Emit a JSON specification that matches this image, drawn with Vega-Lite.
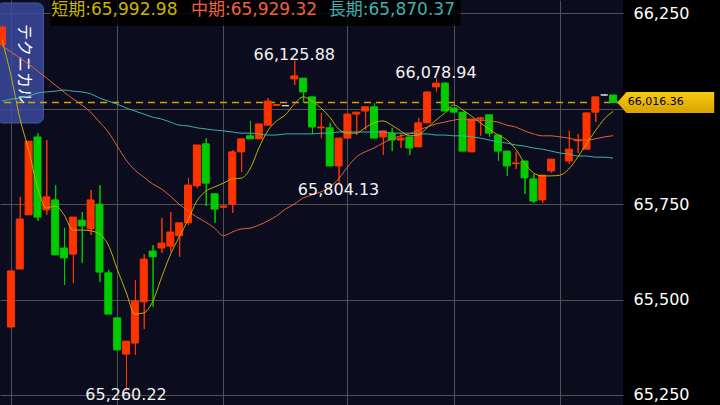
{
  "$schema": "https://vega.github.io/schema/vega-lite/v6.json",
  "width": 623,
  "height": 405,
  "autosize": "none",
  "padding": {"left": 0, "top": 0, "right": 97, "bottom": 0},
  "background": "#000000",
  "config": {
    "view": {"fill": "#0b0c1d", "stroke": null},
    "text": {"font": "DejaVu Sans"}
  },
  "resolve": {"axis": {"x": "independent", "y": "independent"}},
  "datasets": {
    "candles": [
      {"i": 0, "open": 66167, "high": 66219, "low": 66167, "close": 66214},
      {"i": 1, "open": 65428, "high": 65575, "low": 65428, "close": 65575},
      {"i": 2, "open": 65580, "high": 65769, "low": 65580, "close": 65711},
      {"i": 3, "open": 65722, "high": 65915, "low": 65722, "close": 65915},
      {"i": 4, "open": 65926, "high": 65936, "low": 65706, "close": 65716},
      {"i": 5, "open": 65735, "high": 65918, "low": 65722, "close": 65769},
      {"i": 6, "open": 65761, "high": 65800, "low": 65617, "close": 65617},
      {"i": 7, "open": 65635, "high": 65688, "low": 65538, "close": 65609},
      {"i": 8, "open": 65619, "high": 65716, "low": 65543, "close": 65716},
      {"i": 9, "open": 65708, "high": 65729, "low": 65596, "close": 65693},
      {"i": 10, "open": 65685, "high": 65787, "low": 65669, "close": 65761},
      {"i": 11, "open": 65750, "high": 65800, "low": 65546, "close": 65572},
      {"i": 12, "open": 65570, "high": 65578, "low": 65462, "close": 65462},
      {"i": 13, "open": 65452, "high": 65452, "low": 65368, "close": 65368},
      {"i": 14, "open": 65357, "high": 65391, "low": 65260.22, "close": 65391},
      {"i": 15, "open": 65386, "high": 65551, "low": 65355, "close": 65496},
      {"i": 16, "open": 65494, "high": 65619, "low": 65423, "close": 65606},
      {"i": 17, "open": 65627, "high": 65643, "low": 65481, "close": 65612},
      {"i": 18, "open": 65635, "high": 65714, "low": 65622, "close": 65648},
      {"i": 19, "open": 65640, "high": 65729, "low": 65625, "close": 65677},
      {"i": 20, "open": 65667, "high": 65701, "low": 65612, "close": 65701},
      {"i": 21, "open": 65701, "high": 65819, "low": 65695, "close": 65800},
      {"i": 22, "open": 65798, "high": 65905, "low": 65792, "close": 65905},
      {"i": 23, "open": 65908, "high": 65923, "low": 65745, "close": 65805},
      {"i": 24, "open": 65777, "high": 65779, "low": 65701, "close": 65737},
      {"i": 25, "open": 65742, "high": 65746, "low": 65742, "close": 65745},
      {"i": 26, "open": 65750, "high": 65892, "low": 65727, "close": 65887},
      {"i": 27, "open": 65887, "high": 65921, "low": 65834, "close": 65921},
      {"i": 28, "open": 65929, "high": 65968, "low": 65921, "close": 65921},
      {"i": 29, "open": 65921, "high": 65960, "low": 65921, "close": 65960},
      {"i": 30, "open": 65957, "high": 66028, "low": 65957, "close": 66020},
      {"i": 31, "open": 66009, "high": 66012, "low": 66008, "close": 66011},
      {"i": 32, "open": 66008, "high": 66009, "low": 66007, "close": 66008},
      {"i": 33, "open": 66078, "high": 66125.88, "low": 66062, "close": 66086},
      {"i": 34, "open": 66080, "high": 66080, "low": 66015, "close": 66044},
      {"i": 35, "open": 66031, "high": 66031, "low": 65934, "close": 65952},
      {"i": 36, "open": 65950, "high": 65989, "low": 65923, "close": 65952},
      {"i": 37, "open": 65950, "high": 65963, "low": 65850, "close": 65850},
      {"i": 38, "open": 65850, "high": 65923, "low": 65804.13, "close": 65923},
      {"i": 39, "open": 65923, "high": 65986, "low": 65923, "close": 65986},
      {"i": 40, "open": 65986, "high": 65991, "low": 65931, "close": 65991},
      {"i": 41, "open": 65994, "high": 66005, "low": 65944, "close": 66005},
      {"i": 42, "open": 66005, "high": 66015, "low": 65923, "close": 65923},
      {"i": 43, "open": 65926, "high": 65942, "low": 65879, "close": 65942},
      {"i": 44, "open": 65936, "high": 65950, "low": 65889, "close": 65918},
      {"i": 45, "open": 65918, "high": 65936, "low": 65897, "close": 65923},
      {"i": 46, "open": 65926, "high": 65926, "low": 65879, "close": 65897},
      {"i": 47, "open": 65900, "high": 65976, "low": 65900, "close": 65963},
      {"i": 48, "open": 65963, "high": 66044, "low": 65963, "close": 66044},
      {"i": 49, "open": 66057, "high": 66078.94, "low": 66044, "close": 66067},
      {"i": 50, "open": 66067, "high": 66070, "low": 65994, "close": 65994},
      {"i": 51, "open": 66002, "high": 66002, "low": 65991, "close": 65991},
      {"i": 52, "open": 65991, "high": 65991, "low": 65889, "close": 65889},
      {"i": 53, "open": 65887, "high": 65973, "low": 65887, "close": 65973},
      {"i": 54, "open": 65973, "high": 65978, "low": 65929, "close": 65976},
      {"i": 55, "open": 65984, "high": 65984, "low": 65926, "close": 65936},
      {"i": 56, "open": 65931, "high": 65931, "low": 65863, "close": 65889},
      {"i": 57, "open": 65889, "high": 65889, "low": 65824, "close": 65850},
      {"i": 58, "open": 65856, "high": 65887, "low": 65842, "close": 65858},
      {"i": 59, "open": 65863, "high": 65863, "low": 65777, "close": 65819},
      {"i": 60, "open": 65816, "high": 65829, "low": 65753, "close": 65758},
      {"i": 61, "open": 65761, "high": 65826, "low": 65753, "close": 65826},
      {"i": 62, "open": 65837, "high": 65868, "low": 65832, "close": 65868},
      {"i": 64, "open": 65863, "high": 65942, "low": 65855, "close": 65894},
      {"i": 65, "open": 65916, "high": 65934, "low": 65884, "close": 65918},
      {"i": 66, "open": 65894, "high": 65989, "low": 65894, "close": 65989},
      {"i": 67, "open": 65991, "high": 66031, "low": 65965, "close": 66031},
      {"i": 68, "open": 66036, "high": 66037, "low": 66035, "close": 66036},
      {"i": 69, "open": 66036, "high": 66036, "low": 66016.36, "close": 66016.36}
    ],
    "ma": [
      {"i": 0, "s": 66180, "m": 66164, "l": 66020},
      {"i": 1, "s": 66088, "m": 66149, "l": 66025},
      {"i": 2, "s": 65976, "m": 66133, "l": 66028},
      {"i": 3, "s": 65892, "m": 66117, "l": 66033},
      {"i": 4, "s": 65795, "m": 66099, "l": 66041},
      {"i": 5, "s": 65740, "m": 66081, "l": 66044},
      {"i": 6, "s": 65745, "m": 66062, "l": 66046},
      {"i": 7, "s": 65722, "m": 66044, "l": 66049},
      {"i": 8, "s": 65682, "m": 66026, "l": 66046},
      {"i": 9, "s": 65682, "m": 66010, "l": 66044},
      {"i": 10, "s": 65680, "m": 65991, "l": 66039},
      {"i": 11, "s": 65672, "m": 65965, "l": 66028},
      {"i": 12, "s": 65643, "m": 65939, "l": 66020},
      {"i": 13, "s": 65580, "m": 65902, "l": 66012},
      {"i": 14, "s": 65520, "m": 65866, "l": 66002},
      {"i": 15, "s": 65462, "m": 65839, "l": 65994},
      {"i": 16, "s": 65465, "m": 65821, "l": 65986},
      {"i": 17, "s": 65494, "m": 65803, "l": 65978},
      {"i": 18, "s": 65557, "m": 65790, "l": 65973},
      {"i": 19, "s": 65617, "m": 65771, "l": 65965},
      {"i": 20, "s": 65664, "m": 65750, "l": 65957},
      {"i": 21, "s": 65708, "m": 65732, "l": 65955},
      {"i": 22, "s": 65758, "m": 65716, "l": 65950},
      {"i": 23, "s": 65784, "m": 65703, "l": 65947},
      {"i": 24, "s": 65795, "m": 65687, "l": 65944},
      {"i": 25, "s": 65805, "m": 65667, "l": 65942},
      {"i": 26, "s": 65816, "m": 65677, "l": 65939},
      {"i": 27, "s": 65818, "m": 65685, "l": 65936},
      {"i": 28, "s": 65842, "m": 65687, "l": 65936},
      {"i": 29, "s": 65897, "m": 65695, "l": 65934},
      {"i": 30, "s": 65942, "m": 65706, "l": 65931},
      {"i": 31, "s": 65968, "m": 65719, "l": 65931},
      {"i": 32, "s": 65984, "m": 65737, "l": 65934},
      {"i": 33, "s": 66012, "m": 65750, "l": 65934},
      {"i": 34, "s": 66031, "m": 65766, "l": 65934},
      {"i": 35, "s": 66020, "m": 65774, "l": 65934},
      {"i": 36, "s": 66002, "m": 65782, "l": 65936},
      {"i": 37, "s": 65978, "m": 65795, "l": 65936},
      {"i": 38, "s": 65947, "m": 65816, "l": 65939},
      {"i": 39, "s": 65936, "m": 65847, "l": 65939},
      {"i": 40, "s": 65936, "m": 65873, "l": 65939},
      {"i": 41, "s": 65950, "m": 65887, "l": 65939},
      {"i": 42, "s": 65963, "m": 65897, "l": 65939},
      {"i": 43, "s": 65968, "m": 65910, "l": 65939},
      {"i": 44, "s": 65957, "m": 65921, "l": 65936},
      {"i": 45, "s": 65942, "m": 65929, "l": 65936},
      {"i": 46, "s": 65929, "m": 65934, "l": 65936},
      {"i": 47, "s": 65931, "m": 65944, "l": 65934},
      {"i": 48, "s": 65950, "m": 65952, "l": 65934},
      {"i": 49, "s": 65970, "m": 65960, "l": 65931},
      {"i": 50, "s": 65989, "m": 65965, "l": 65931},
      {"i": 51, "s": 66010, "m": 65970, "l": 65929},
      {"i": 52, "s": 65997, "m": 65973, "l": 65929},
      {"i": 53, "s": 65981, "m": 65970, "l": 65926},
      {"i": 54, "s": 65963, "m": 65970, "l": 65923},
      {"i": 55, "s": 65947, "m": 65968, "l": 65918},
      {"i": 56, "s": 65931, "m": 65965, "l": 65913},
      {"i": 57, "s": 65918, "m": 65957, "l": 65910},
      {"i": 58, "s": 65894, "m": 65952, "l": 65905},
      {"i": 59, "s": 65858, "m": 65942, "l": 65902},
      {"i": 60, "s": 65832, "m": 65934, "l": 65897},
      {"i": 61, "s": 65824, "m": 65929, "l": 65894},
      {"i": 62, "s": 65824, "m": 65929, "l": 65889},
      {"i": 63, "s": 65826, "m": 65926, "l": 65884},
      {"i": 64, "s": 65842, "m": 65923, "l": 65881},
      {"i": 65, "s": 65873, "m": 65918, "l": 65876},
      {"i": 66, "s": 65908, "m": 65918, "l": 65876},
      {"i": 67, "s": 65942, "m": 65921, "l": 65873},
      {"i": 68, "s": 65973, "m": 65926, "l": 65873},
      {"i": 69, "s": 65992.98, "m": 65929.32, "l": 65870.37}
    ],
    "notes": [
      {"i": 33, "price": 66125.88, "label": "66,125.88", "pos": "above"},
      {"i": 49, "price": 66078.94, "label": "66,078.94", "pos": "above"},
      {"i": 38, "price": 65804.13, "label": "65,804.13", "pos": "below"},
      {"i": 14, "price": 65260.22, "label": "65,260.22", "pos": "bottom"}
    ],
    "legend": [
      {"key": "short", "label": "短期:65,992.98"},
      {"key": "mid", "label": "中期:65,929.32"},
      {"key": "long", "label": "長期:65,870.37"}
    ],
    "last": [{"price": 66016.36, "label": "66,016.36"}],
    "button": [{"label": "テクニカル"}]
  },
  "layer": [
    {
      "data": {"name": "candles"},
      "mark": {"type": "rule", "clip": true, "strokeWidth": 1, "xOffset": 0.5},
      "encoding": {
        "x": {"field": "i", "type": "quantitative", "title": null,
              "scale": {"domain": [0.3333, 69.5556], "nice": false, "zero": false},
              "axis": {"values": [1, 13, 25, 39, 51, 63], "labels": false, "ticks": false, "domain": false, "grid": true, "gridColor": "#515151", "gridWidth": 1, "title": null}},
        "y": {"field": "low", "type": "quantitative", "title": null,
              "scale": {"domain": [65223.7, 66284.85], "nice": false, "zero": false},
              "axis": {"orient": "right", "values": [65250, 65500, 65750, 66000, 66250], "format": ",.0f", "labelExpr": "datum.value == 66000 ? '' : datum.label", "labelColor": "#ffffff", "labelFont": "DejaVu Sans", "labelFontSize": 16, "labelPadding": 10, "labelFlush": 10, "ticks": false, "domain": false, "grid": true, "gridColor": "#515151", "gridWidth": 1, "title": null}},
        "y2": {"field": "high"},
        "color": {"condition": [{"test": "datum.close > datum.open", "value": "#ff3300"}, {"test": "datum.close < datum.open", "value": "#00cc00"}], "value": "#dddddd"}
      }
    },
    {
      "data": {"name": "button"},
      "mark": {"type": "rect", "cornerRadius": 6, "fill": "#3b4a9c", "stroke": "#5565b5", "strokeWidth": 1, "opacity": 0.85},
      "encoding": {
        "x": {"datum": -0.6, "type": "quantitative", "scale": {"domain": [0.3333, 69.5556], "nice": false, "zero": false}, "axis": null},
        "x2": {"datum": 4.667},
        "y": {"datum": 66277, "type": "quantitative", "scale": {"domain": [65223.7, 66284.85], "nice": false, "zero": false}, "axis": null},
        "y2": {"datum": 65962.6}
      }
    },
    {
      "data": {"name": "button"},
      "mark": {"type": "text", "angle": 90, "align": "center", "baseline": "middle", "font": "Noto Sans CJK JP", "fontSize": 16, "color": "#ffffff"},
      "encoding": {
        "x": {"datum": 2.444, "type": "quantitative", "scale": {"domain": [0.3333, 69.5556], "nice": false, "zero": false}, "axis": null},
        "y": {"datum": 66117, "type": "quantitative", "scale": {"domain": [65223.7, 66284.85], "nice": false, "zero": false}, "axis": null},
        "text": {"field": "label"}
      }
    },
    {
      "data": {"name": "last"},
      "mark": {"type": "rule", "color": "#d9a000", "strokeWidth": 1.5, "strokeDash": [7, 5]},
      "encoding": {
        "y": {"field": "price", "type": "quantitative", "scale": {"domain": [65223.7, 66284.85], "nice": false, "zero": false}, "axis": null}
      }
    },
    {
      "data": {"name": "candles"},
      "mark": {"type": "rule", "clip": true, "strokeWidth": 1, "xOffset": 0.5},
      "encoding": {
        "x": {"field": "i", "type": "quantitative", "scale": {"domain": [0.3333, 69.5556], "nice": false, "zero": false}, "axis": null},
        "y": {"field": "low", "type": "quantitative", "scale": {"domain": [65223.7, 66284.85], "nice": false, "zero": false}, "axis": null},
        "y2": {"field": "high"},
        "color": {"condition": [{"test": "datum.close > datum.open", "value": "#ff3300"}, {"test": "datum.close < datum.open", "value": "#00cc00"}], "value": "#dddddd"}
      }
    },
    {
      "data": {"name": "candles"},
      "mark": {"type": "bar", "clip": true, "width": 7, "strokeWidth": 1},
      "encoding": {
        "x": {"field": "i", "type": "quantitative", "scale": {"domain": [0.3333, 69.5556], "nice": false, "zero": false}, "axis": null},
        "y": {"field": "open", "type": "quantitative", "scale": {"domain": [65223.7, 66284.85], "nice": false, "zero": false}, "axis": null},
        "y2": {"field": "close"},
        "color": {"condition": [{"test": "datum.close > datum.open", "value": "#ff3300"}, {"test": "datum.close < datum.open", "value": "#00cc00"}], "value": "#dddddd"},
        "stroke": {"condition": [{"test": "datum.close > datum.open", "value": "#ff3300"}, {"test": "datum.close < datum.open", "value": "#00cc00"}], "value": "#dddddd"}
      }
    },
    {
      "data": {"name": "ma"},
      "mark": {"type": "line", "clip": true, "strokeWidth": 1, "color": "#3fb0b0", "interpolate": "monotone"},
      "encoding": {
        "x": {"field": "i", "type": "quantitative", "scale": {"domain": [0.3333, 69.5556], "nice": false, "zero": false}, "axis": null},
        "y": {"field": "l", "type": "quantitative", "scale": {"domain": [65223.7, 66284.85], "nice": false, "zero": false}, "axis": null}
      }
    },
    {
      "data": {"name": "ma"},
      "mark": {"type": "line", "clip": true, "strokeWidth": 1, "color": "#e8603c", "interpolate": "monotone"},
      "encoding": {
        "x": {"field": "i", "type": "quantitative", "scale": {"domain": [0.3333, 69.5556], "nice": false, "zero": false}, "axis": null},
        "y": {"field": "m", "type": "quantitative", "scale": {"domain": [65223.7, 66284.85], "nice": false, "zero": false}, "axis": null}
      }
    },
    {
      "data": {"name": "ma"},
      "mark": {"type": "line", "clip": true, "strokeWidth": 1, "color": "#c2b000", "interpolate": "monotone"},
      "encoding": {
        "x": {"field": "i", "type": "quantitative", "scale": {"domain": [0.3333, 69.5556], "nice": false, "zero": false}, "axis": null},
        "y": {"field": "s", "type": "quantitative", "scale": {"domain": [65223.7, 66284.85], "nice": false, "zero": false}, "axis": null}
      }
    },
    {
      "data": {"name": "last"},
      "mark": {"type": "rect", "fill": "#000000", "opacity": 0.85},
      "encoding": {
        "x": {"datum": 5.444, "type": "quantitative", "scale": {"domain": [0.3333, 69.5556], "nice": false, "zero": false}, "axis": null},
        "x2": {"datum": 51.78},
        "y": {"datum": 66284.85, "type": "quantitative", "scale": {"domain": [65223.7, 66284.85], "nice": false, "zero": false}, "axis": null},
        "y2": {"datum": 66216.7}
      }
    },
    {
      "data": {"name": "legend"},
      "transform": [{"filter": "datum.key == 'short'"}],
      "mark": {"type": "text", "align": "left", "baseline": "alphabetic", "font": "DejaVu Sans, Noto Sans CJK JP", "fontSize": 17, "color": "#c8b400"},
      "encoding": {
        "x": {"datum": 5.556, "type": "quantitative", "scale": {"domain": [0.3333, 69.5556], "nice": false, "zero": false}, "axis": null},
        "y": {"datum": 66246.5, "type": "quantitative", "scale": {"domain": [65223.7, 66284.85], "nice": false, "zero": false}, "axis": null},
        "text": {"field": "label"}
      }
    },
    {
      "data": {"name": "legend"},
      "transform": [{"filter": "datum.key == 'mid'"}],
      "mark": {"type": "text", "align": "left", "baseline": "alphabetic", "font": "DejaVu Sans, Noto Sans CJK JP", "fontSize": 17, "color": "#f0603c"},
      "encoding": {
        "x": {"datum": 21.33, "type": "quantitative", "scale": {"domain": [0.3333, 69.5556], "nice": false, "zero": false}, "axis": null},
        "y": {"datum": 66246.5, "type": "quantitative", "scale": {"domain": [65223.7, 66284.85], "nice": false, "zero": false}, "axis": null},
        "text": {"field": "label"}
      }
    },
    {
      "data": {"name": "legend"},
      "transform": [{"filter": "datum.key == 'long'"}],
      "mark": {"type": "text", "align": "left", "baseline": "alphabetic", "font": "DejaVu Sans, Noto Sans CJK JP", "fontSize": 17, "color": "#40b0b0"},
      "encoding": {
        "x": {"datum": 36.89, "type": "quantitative", "scale": {"domain": [0.3333, 69.5556], "nice": false, "zero": false}, "axis": null},
        "y": {"datum": 66246.5, "type": "quantitative", "scale": {"domain": [65223.7, 66284.85], "nice": false, "zero": false}, "axis": null},
        "text": {"field": "label"}
      }
    },
    {
      "data": {"name": "notes"},
      "transform": [{"filter": "datum.pos == 'above'"}],
      "mark": {"type": "text", "align": "center", "baseline": "alphabetic", "dy": -1, "font": "DejaVu Sans", "fontSize": 16, "color": "#f2f2f2"},
      "encoding": {
        "x": {"field": "i", "type": "quantitative", "scale": {"domain": [0.3333, 69.5556], "nice": false, "zero": false}, "axis": null},
        "y": {"field": "price", "type": "quantitative", "scale": {"domain": [65223.7, 66284.85], "nice": false, "zero": false}, "axis": null},
        "text": {"field": "label"}
      }
    },
    {
      "data": {"name": "notes"},
      "transform": [{"filter": "datum.pos == 'below'"}],
      "mark": {"type": "text", "align": "center", "baseline": "alphabetic", "dy": 12, "font": "DejaVu Sans", "fontSize": 16, "color": "#f2f2f2"},
      "encoding": {
        "x": {"field": "i", "type": "quantitative", "scale": {"domain": [0.3333, 69.5556], "nice": false, "zero": false}, "axis": null},
        "y": {"field": "price", "type": "quantitative", "scale": {"domain": [65223.7, 66284.85], "nice": false, "zero": false}, "axis": null},
        "text": {"field": "label"}
      }
    },
    {
      "data": {"name": "notes"},
      "transform": [{"filter": "datum.pos == 'bottom'"}],
      "mark": {"type": "text", "align": "center", "baseline": "alphabetic", "dy": 9, "font": "DejaVu Sans", "fontSize": 16, "color": "#f2f2f2"},
      "encoding": {
        "x": {"field": "i", "type": "quantitative", "scale": {"domain": [0.3333, 69.5556], "nice": false, "zero": false}, "axis": null},
        "y": {"field": "price", "type": "quantitative", "scale": {"domain": [65223.7, 66284.85], "nice": false, "zero": false}, "axis": null},
        "text": {"field": "label"}
      }
    },
    {
      "data": {"name": "last"},
      "mark": {"type": "point", "filled": true, "opacity": 1, "size": 9409,
               "shape": "M-1,0 L-0.81,-0.217 L1,-0.217 L1,0.217 L-0.81,0.217 Z",
               "fill": {"gradient": "linear", "x1": 0, "y1": 0, "x2": 0, "y2": 1, "stops": [{"offset": 0, "color": "#f8cc10"}, {"offset": 1, "color": "#d9a200"}]},
               "stroke": null},
      "encoding": {
        "x": {"datum": 74.944, "type": "quantitative", "scale": {"domain": [0.3333, 69.5556], "nice": false, "zero": false}, "axis": null},
        "y": {"field": "price", "type": "quantitative", "scale": {"domain": [65223.7, 66284.85], "nice": false, "zero": false}, "axis": null}
      }
    },
    {
      "data": {"name": "last"},
      "mark": {"type": "text", "align": "left", "baseline": "middle", "font": "DejaVu Sans", "fontSize": 11, "color": "#000000"},
      "encoding": {
        "x": {"datum": 70.667, "type": "quantitative", "scale": {"domain": [0.3333, 69.5556], "nice": false, "zero": false}, "axis": null},
        "y": {"field": "price", "type": "quantitative", "scale": {"domain": [65223.7, 66284.85], "nice": false, "zero": false}, "axis": null},
        "text": {"field": "label"}
      }
    }
  ]
}
